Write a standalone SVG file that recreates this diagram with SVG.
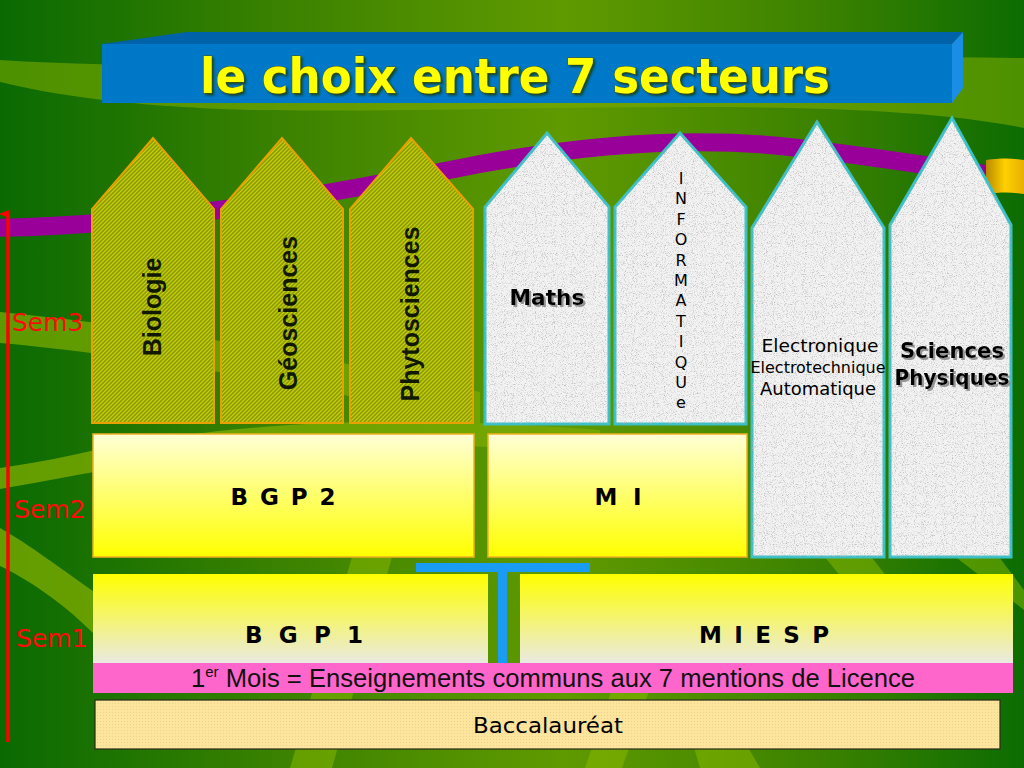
<svg xmlns="http://www.w3.org/2000/svg" width="1024" height="768" viewBox="0 0 1024 768">
  <defs>
    <linearGradient id="bg" x1="0" y1="0" x2="1" y2="0">
      <stop offset="0" stop-color="#0a6a02"/>
      <stop offset="0.3" stop-color="#3f8400"/>
      <stop offset="0.55" stop-color="#609a00"/>
      <stop offset="0.8" stop-color="#3c8200"/>
      <stop offset="1" stop-color="#0c6c02"/>
    </linearGradient>
    <linearGradient id="sem2fill" x1="0" y1="0" x2="0" y2="1">
      <stop offset="0" stop-color="#ffffd6"/>
      <stop offset="1" stop-color="#ffff00"/>
    </linearGradient>
    <linearGradient id="sem1fill" x1="0" y1="0" x2="0" y2="1">
      <stop offset="0" stop-color="#ffff00"/>
      <stop offset="1" stop-color="#e9e9e2"/>
    </linearGradient>
    <linearGradient id="gold" x1="0" y1="0" x2="1" y2="0">
      <stop offset="0" stop-color="#b88a00"/>
      <stop offset="0.5" stop-color="#ffd000"/>
      <stop offset="1" stop-color="#e8b000"/>
    </linearGradient>
    <pattern id="knit" width="4" height="4" patternUnits="userSpaceOnUse">
      <rect width="4" height="4" fill="#a2b000"/>
      <path d="M0,4 L4,0" stroke="#cfd21c" stroke-width="0.8"/>
      <path d="M0,2 L2,0 M2,4 L4,2" stroke="#7a8a06" stroke-width="0.6"/>
    </pattern>
    <pattern id="dots" width="3" height="3" patternUnits="userSpaceOnUse">
      <rect width="3" height="3" fill="#fde59e"/>
      <rect x="1" y="1" width="1" height="1" fill="#efd38a"/>
    </pattern>
    <filter id="grain" x="0" y="0" width="100%" height="100%" color-interpolation-filters="sRGB">
      <feTurbulence type="fractalNoise" baseFrequency="1.1" numOctaves="2" seed="7" result="t"/>
      <feColorMatrix in="t" type="matrix" values="0 0 0 0 0.7  0 0 0 0 0.7  0 0 0 0 0.7  0 0 0 -2.5 1.22" result="spots"/>
      <feComposite in="spots" in2="SourceAlpha" operator="in"/>
    </filter>
    <filter id="shadow" x="-10%" y="-20%" width="130%" height="150%">
      <feDropShadow dx="2" dy="2" stdDeviation="0.6" flood-color="#8a8a8a" flood-opacity="0.9"/>
    </filter>
    <filter id="tshadow" x="-5%" y="-20%" width="110%" height="150%">
      <feDropShadow dx="2" dy="2" stdDeviation="0.8" flood-color="#1a3a00" flood-opacity="0.8"/>
    </filter>
    <marker id="redhead" markerWidth="8" markerHeight="10" refX="4" refY="9" orient="auto-start-reverse" markerUnits="userSpaceOnUse" viewBox="0 0 8 10">
      <path d="M0,10 L4,0 L8,10 Z" fill="#ff0000"/>
    </marker>
    <style>
      .comic { font-family: "DejaVu Sans", "Noto Sans", sans-serif; }
      .arial { font-family: "Liberation Sans", Arial, sans-serif; }
      .green { fill: url(#knit); stroke: #e8a000; stroke-width: 2; }
      .grey { fill: #f2f2f2; stroke: #3cc0c8; stroke-width: 3; stroke-linejoin: miter; }
      .grainy { fill: #000; filter: url(#grain); }
      .vlabel { font-family: "Liberation Sans", Arial, sans-serif; font-weight: bold; font-size: 25px; fill: #101800; }
      .sem { font-family: "DejaVu Sans", "Noto Sans", sans-serif; font-size: 25px; fill: #ff0a0a; }
      .box2 { fill: url(#sem2fill); stroke: #f2b020; stroke-width: 1.5; }
      .box1 { fill: url(#sem1fill); }
      .boxlabel { font-family: "DejaVu Sans", "Noto Sans", sans-serif; font-weight: bold; font-size: 23px; fill: #000; }
      .swoosh { fill: #7aaa00; }
      .ray { fill: #8cbc00; opacity: 0.5; }
    </style>
  </defs>

  <!-- background -->
  <rect width="1024" height="768" fill="url(#bg)"/>
  <path class="swoosh" d="M0,60 C250,76 600,52 1024,58 L1024,128 C850,92 500,114 250,110 C120,106 50,94 0,82 Z" opacity="0.6"/>
  <path class="swoosh" d="M0,312 C100,322 250,340 480,392 L480,424 C250,372 100,352 0,343 Z" opacity="0.75"/>
  <path class="swoosh" d="M0,468 C40,462 70,456 100,449 C250,420 400,415 600,430 L600,452 C400,440 250,445 100,471 C60,478 30,484 0,489 Z" opacity="0.8"/>
  <path class="swoosh" d="M0,528 C30,545 60,568 100,596 L160,650 L120,660 L93,633 C60,600 25,578 0,566 Z" opacity="0.8"/>
  <polygon class="ray" points="290,768 332,768 392,557 352,557"/>
  <polygon class="ray" points="585,768 622,768 660,660 622,660"/>
  <polygon class="ray" points="815,545 862,545 905,600 860,600"/>
  <polygon class="ray" points="940,545 990,545 1024,590 1024,610"/>
  <polygon class="ray" points="700,768 760,768 720,700 680,700"/>

  <!-- purple band -->
  <path d="M-10,228 C150,226 300,200 480,164 C600,142 700,138 780,146 C860,154 940,168 1000,176" fill="none" stroke="#990099" stroke-width="18"/>
  <path d="M986,160 C1000,158 1012,158 1024,160 L1024,194 C1012,192 1000,192 986,194 Z" fill="url(#gold)"/>

  <!-- title -->
  <g id="title">
    <polygon points="102,44 187,32 963,32 952,44" fill="#0062a8"/>
    <rect x="102" y="44" width="850" height="59" fill="#0078c8"/>
    <polygon points="952,44 963,32 963,88 952,103" fill="#1a8ee6"/>
    <text x="515" y="93" text-anchor="middle" class="comic" font-size="48" font-weight="bold" fill="#ffff00" stroke="#4a5a00" stroke-width="0.8" paint-order="stroke" textLength="630" lengthAdjust="spacingAndGlyphs" filter="url(#tshadow)">le choix entre 7 secteurs</text>
  </g>

  <!-- semester axis -->
  <g id="axis">
    <line x1="8" y1="742" x2="8" y2="214" stroke="#ff0000" stroke-width="3.5" marker-end="url(#redhead)"/>
    <text class="sem" x="12" y="331">Sem3</text>
    <text class="sem" x="14" y="518">Sem2</text>
    <text class="sem" x="16" y="647">Sem1</text>
  </g>

  <!-- Sem3 sectors -->
  <g id="biologie">
    <path class="green" d="M92,423 L92,209 L153,138 L214,209 L214,423 Z"/>
    <text class="vlabel" transform="translate(161,307) rotate(-90)" text-anchor="middle">Biologie</text>
  </g>
  <g id="geosciences">
    <path class="green" d="M221,423 L221,209 L282,138 L343,209 L343,423 Z"/>
    <text class="vlabel" transform="translate(297,313) rotate(-90)" text-anchor="middle">Géosciences</text>
  </g>
  <g id="phytosciences">
    <path class="green" d="M350,423 L350,209 L411,138 L473,209 L473,423 Z"/>
    <text class="vlabel" transform="translate(419,314) rotate(-90)" text-anchor="middle">Phytosciences</text>
  </g>
  <g id="maths">
    <path class="grey" d="M485,424 L485,207 L547,133 L609,207 L609,424 Z"/>
    <path class="grainy" d="M485,424 L485,207 L547,133 L609,207 L609,424 Z"/>
    <text class="comic" x="547" y="305" text-anchor="middle" font-size="22" font-weight="bold" textLength="75" lengthAdjust="spacingAndGlyphs" filter="url(#shadow)">Maths</text>
  </g>
  <g id="informatique">
    <path class="grey" d="M615,424 L615,207 L680,133 L746,207 L746,424 Z"/>
    <path class="grainy" d="M615,424 L615,207 L680,133 L746,207 L746,424 Z"/>
    <text class="comic" font-size="16" text-anchor="middle" fill="#000"><tspan x="681" y="184">I</tspan><tspan x="681" dy="20.4">N</tspan><tspan x="681" dy="20.4">F</tspan><tspan x="681" dy="20.4">O</tspan><tspan x="681" dy="20.4">R</tspan><tspan x="681" dy="20.4">M</tspan><tspan x="681" dy="20.4">A</tspan><tspan x="681" dy="20.4">T</tspan><tspan x="681" dy="20.4">I</tspan><tspan x="681" dy="20.4">Q</tspan><tspan x="681" dy="20.4">U</tspan><tspan x="681" dy="20.4">e</tspan></text>
  </g>
  <g id="electronique">
    <path class="grey" d="M752,557 L752,228 L817,122 L884,228 L884,557 Z"/>
    <path class="grainy" d="M752,557 L752,228 L817,122 L884,228 L884,557 Z"/>
    <text class="comic" x="820" y="352" text-anchor="middle" font-size="17" textLength="117" lengthAdjust="spacingAndGlyphs">Electronique</text>
    <text class="comic" x="818" y="373" text-anchor="middle" font-size="15.5" textLength="135" lengthAdjust="spacingAndGlyphs">Electrotechnique</text>
    <text class="comic" x="818" y="395" text-anchor="middle" font-size="17" textLength="116" lengthAdjust="spacingAndGlyphs">Automatique</text>
  </g>
  <g id="sciences-physiques">
    <path class="grey" d="M890,557 L890,225 L952,118 L1011,225 L1011,557 Z"/>
    <path class="grainy" d="M890,557 L890,225 L952,118 L1011,225 L1011,557 Z"/>
    <text class="comic" text-anchor="middle" font-size="22" font-weight="bold" filter="url(#shadow)"><tspan x="952" y="358" textLength="104" lengthAdjust="spacingAndGlyphs">Sciences</tspan><tspan x="952" y="385" textLength="115" lengthAdjust="spacingAndGlyphs">Physiques</tspan></text>
  </g>

  <!-- Sem2 -->
  <g id="bgp2">
    <rect class="box2" x="93" y="434" width="381" height="123"/>
    <text class="boxlabel" x="283" y="505" text-anchor="middle" textLength="105" lengthAdjust="spacing">B G P 2</text>
  </g>
  <g id="mi">
    <rect class="box2" x="488" y="434" width="259" height="123"/>
    <text class="boxlabel" x="618" y="505" text-anchor="middle" textLength="47" lengthAdjust="spacing">M I</text>
  </g>

  <!-- Sem1 -->
  <g id="bgp1">
    <rect class="box1" x="93" y="574" width="395" height="89"/>
    <text class="boxlabel" x="304" y="643" text-anchor="middle" textLength="118" lengthAdjust="spacing">B G P 1</text>
  </g>
  <g id="miesp">
    <rect class="box1" x="520" y="574" width="493" height="89"/>
    <text class="boxlabel" x="764" y="643" text-anchor="middle" textLength="130" lengthAdjust="spacing">M I E S P</text>
  </g>

  <!-- connectors -->
  <g id="connectors">
    <rect x="416" y="563" width="174" height="9" fill="#1a9cf4"/>
    <rect x="498" y="572" width="9" height="91" fill="#1a9cf4"/>
  </g>

  <g id="premier-mois">
    <rect x="93" y="663" width="920" height="30" fill="#ff66cc"/>
    <text class="arial" x="191" y="687" font-size="25.6" fill="#111"><tspan>1</tspan><tspan dy="-10" font-size="15">er</tspan><tspan dy="10"> Mois = Enseignements communs aux 7 mentions de Licence</tspan></text>
  </g>

  <g id="baccalaureat">
    <rect x="95" y="700" width="905" height="49" fill="url(#dots)" stroke="#2a2a1a" stroke-width="1.2"/>
    <text class="comic" x="548" y="733" text-anchor="middle" font-size="22" fill="#000" textLength="150" lengthAdjust="spacingAndGlyphs">Baccalauréat</text>
  </g>
</svg>
